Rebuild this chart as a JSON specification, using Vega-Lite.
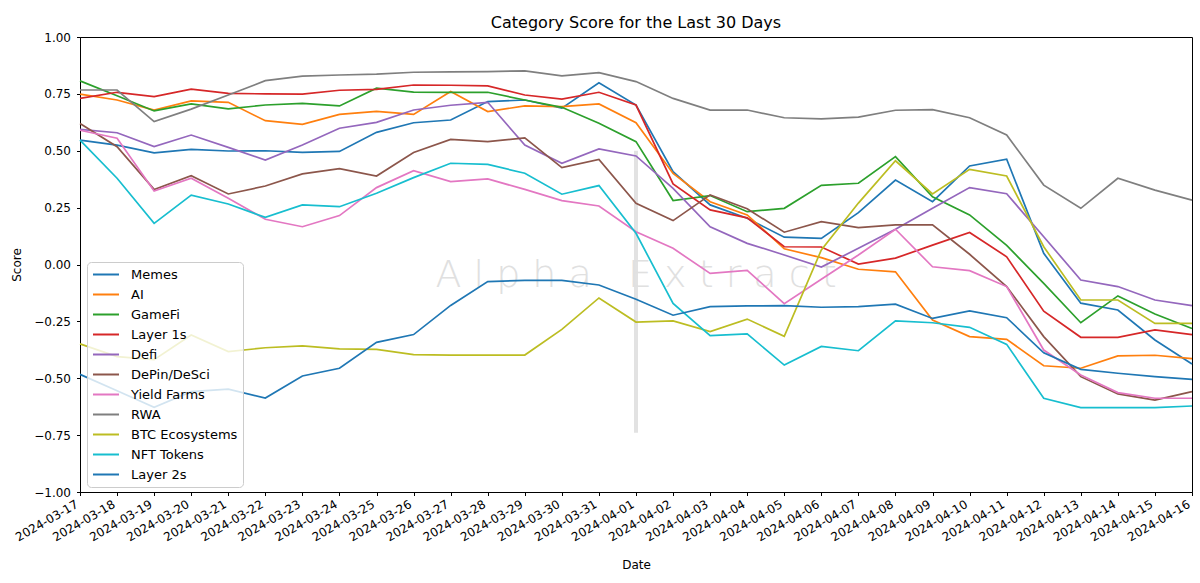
{
"$schema":"https://vega.github.io/schema/vega-lite/v6.json",
"width":1112,"height":455,
"autosize":{"type":"none"},
"padding":{"left":80,"top":37,"right":8,"bottom":91},
"background":"white",
"title":{"text":"Category Score for the Last 30 Days","fontSize":16,"fontWeight":"normal","font":"DejaVu Sans","color":"black","offset":0},
"config":{"font":"DejaVu Sans","view":{"stroke":"black","strokeWidth":1},
"axis":{"domainColor":"black","tickColor":"black","tickSize":3.5,"labelColor":"black","labelFontSize":12,"titleFontSize":12,"titleFontWeight":"normal","titleColor":"black","grid":false,"labelFont":"DejaVu Sans","titleFont":"DejaVu Sans"}},
"data":{"values":[
{"date":"2024-03-17","category":"Memes","score":0.547},{"date":"2024-03-18","category":"Memes","score":0.525},{"date":"2024-03-19","category":"Memes","score":0.491},{"date":"2024-03-20","category":"Memes","score":0.506},{"date":"2024-03-21","category":"Memes","score":0.499},{"date":"2024-03-22","category":"Memes","score":0.5},{"date":"2024-03-23","category":"Memes","score":0.493},{"date":"2024-03-24","category":"Memes","score":0.497},{"date":"2024-03-25","category":"Memes","score":0.581},{"date":"2024-03-26","category":"Memes","score":0.623},{"date":"2024-03-27","category":"Memes","score":0.635},{"date":"2024-03-28","category":"Memes","score":0.716},{"date":"2024-03-29","category":"Memes","score":0.723},{"date":"2024-03-30","category":"Memes","score":0.687},{"date":"2024-03-31","category":"Memes","score":0.799},{"date":"2024-04-01","category":"Memes","score":0.701},{"date":"2024-04-02","category":"Memes","score":0.408},{"date":"2024-04-03","category":"Memes","score":0.262},{"date":"2024-04-04","category":"Memes","score":0.203},{"date":"2024-04-05","category":"Memes","score":0.12},{"date":"2024-04-06","category":"Memes","score":0.115},{"date":"2024-04-07","category":"Memes","score":0.228},{"date":"2024-04-08","category":"Memes","score":0.371},{"date":"2024-04-09","category":"Memes","score":0.276},{"date":"2024-04-10","category":"Memes","score":0.433},{"date":"2024-04-11","category":"Memes","score":0.463},{"date":"2024-04-12","category":"Memes","score":0.049},{"date":"2024-04-13","category":"Memes","score":-0.17},{"date":"2024-04-14","category":"Memes","score":-0.2},{"date":"2024-04-15","category":"Memes","score":-0.332},{"date":"2024-04-16","category":"Memes","score":-0.437},
{"date":"2024-03-17","category":"AI","score":0.749},{"date":"2024-03-18","category":"AI","score":0.723},{"date":"2024-03-19","category":"AI","score":0.679},{"date":"2024-03-20","category":"AI","score":0.719},{"date":"2024-03-21","category":"AI","score":0.713},{"date":"2024-03-22","category":"AI","score":0.632},{"date":"2024-03-23","category":"AI","score":0.616},{"date":"2024-03-24","category":"AI","score":0.66},{"date":"2024-03-25","category":"AI","score":0.673},{"date":"2024-03-26","category":"AI","score":0.66},{"date":"2024-03-27","category":"AI","score":0.76},{"date":"2024-03-28","category":"AI","score":0.672},{"date":"2024-03-29","category":"AI","score":0.697},{"date":"2024-03-30","category":"AI","score":0.694},{"date":"2024-03-31","category":"AI","score":0.706},{"date":"2024-04-01","category":"AI","score":0.623},{"date":"2024-04-02","category":"AI","score":0.4},{"date":"2024-04-03","category":"AI","score":0.276},{"date":"2024-04-04","category":"AI","score":0.218},{"date":"2024-04-05","category":"AI","score":0.069},{"date":"2024-04-06","category":"AI","score":0.03},{"date":"2024-04-07","category":"AI","score":-0.021},{"date":"2024-04-08","category":"AI","score":-0.032},{"date":"2024-04-09","category":"AI","score":-0.244},{"date":"2024-04-10","category":"AI","score":-0.317},{"date":"2024-04-11","category":"AI","score":-0.329},{"date":"2024-04-12","category":"AI","score":-0.445},{"date":"2024-04-13","category":"AI","score":-0.456},{"date":"2024-04-14","category":"AI","score":-0.402},{"date":"2024-04-15","category":"AI","score":-0.399},{"date":"2024-04-16","category":"AI","score":-0.414},
{"date":"2024-03-17","category":"GameFi","score":0.807},{"date":"2024-03-18","category":"GameFi","score":0.742},{"date":"2024-03-19","category":"GameFi","score":0.675},{"date":"2024-03-20","category":"GameFi","score":0.706},{"date":"2024-03-21","category":"GameFi","score":0.684},{"date":"2024-03-22","category":"GameFi","score":0.701},{"date":"2024-03-23","category":"GameFi","score":0.708},{"date":"2024-03-24","category":"GameFi","score":0.697},{"date":"2024-03-25","category":"GameFi","score":0.775},{"date":"2024-03-26","category":"GameFi","score":0.758},{"date":"2024-03-27","category":"GameFi","score":0.757},{"date":"2024-03-28","category":"GameFi","score":0.757},{"date":"2024-03-29","category":"GameFi","score":0.723},{"date":"2024-03-30","category":"GameFi","score":0.691},{"date":"2024-03-31","category":"GameFi","score":0.621},{"date":"2024-04-01","category":"GameFi","score":0.54},{"date":"2024-04-02","category":"GameFi","score":0.281},{"date":"2024-04-03","category":"GameFi","score":0.303},{"date":"2024-04-04","category":"GameFi","score":0.232},{"date":"2024-04-05","category":"GameFi","score":0.247},{"date":"2024-04-06","category":"GameFi","score":0.348},{"date":"2024-04-07","category":"GameFi","score":0.357},{"date":"2024-04-08","category":"GameFi","score":0.474},{"date":"2024-04-09","category":"GameFi","score":0.298},{"date":"2024-04-10","category":"GameFi","score":0.218},{"date":"2024-04-11","category":"GameFi","score":0.084},{"date":"2024-04-12","category":"GameFi","score":-0.083},{"date":"2024-04-13","category":"GameFi","score":-0.256},{"date":"2024-04-14","category":"GameFi","score":-0.138},{"date":"2024-04-15","category":"GameFi","score":-0.218},{"date":"2024-04-16","category":"GameFi","score":-0.281},
{"date":"2024-03-17","category":"Layer 1s","score":0.73},{"date":"2024-03-18","category":"Layer 1s","score":0.757},{"date":"2024-03-19","category":"Layer 1s","score":0.738},{"date":"2024-03-20","category":"Layer 1s","score":0.771},{"date":"2024-03-21","category":"Layer 1s","score":0.752},{"date":"2024-03-22","category":"Layer 1s","score":0.75},{"date":"2024-03-23","category":"Layer 1s","score":0.749},{"date":"2024-03-24","category":"Layer 1s","score":0.766},{"date":"2024-03-25","category":"Layer 1s","score":0.77},{"date":"2024-03-26","category":"Layer 1s","score":0.789},{"date":"2024-03-27","category":"Layer 1s","score":0.788},{"date":"2024-03-28","category":"Layer 1s","score":0.785},{"date":"2024-03-29","category":"Layer 1s","score":0.745},{"date":"2024-03-30","category":"Layer 1s","score":0.727},{"date":"2024-03-31","category":"Layer 1s","score":0.757},{"date":"2024-04-01","category":"Layer 1s","score":0.701},{"date":"2024-04-02","category":"Layer 1s","score":0.354},{"date":"2024-04-03","category":"Layer 1s","score":0.24},{"date":"2024-04-04","category":"Layer 1s","score":0.205},{"date":"2024-04-05","category":"Layer 1s","score":0.078},{"date":"2024-04-06","category":"Layer 1s","score":0.077},{"date":"2024-04-07","category":"Layer 1s","score":0.002},{"date":"2024-04-08","category":"Layer 1s","score":0.028},{"date":"2024-04-09","category":"Layer 1s","score":0.085},{"date":"2024-04-10","category":"Layer 1s","score":0.141},{"date":"2024-04-11","category":"Layer 1s","score":0.034},{"date":"2024-04-12","category":"Layer 1s","score":-0.205},{"date":"2024-04-13","category":"Layer 1s","score":-0.32},{"date":"2024-04-14","category":"Layer 1s","score":-0.32},{"date":"2024-04-15","category":"Layer 1s","score":-0.287},{"date":"2024-04-16","category":"Layer 1s","score":-0.308},
{"date":"2024-03-17","category":"Defi","score":0.594},{"date":"2024-03-18","category":"Defi","score":0.579},{"date":"2024-03-19","category":"Defi","score":0.518},{"date":"2024-03-20","category":"Defi","score":0.569},{"date":"2024-03-21","category":"Defi","score":0.515},{"date":"2024-03-22","category":"Defi","score":0.459},{"date":"2024-03-23","category":"Defi","score":0.525},{"date":"2024-03-24","category":"Defi","score":0.599},{"date":"2024-03-25","category":"Defi","score":0.625},{"date":"2024-03-26","category":"Defi","score":0.679},{"date":"2024-03-27","category":"Defi","score":0.7},{"date":"2024-03-28","category":"Defi","score":0.713},{"date":"2024-03-29","category":"Defi","score":0.525},{"date":"2024-03-30","category":"Defi","score":0.445},{"date":"2024-03-31","category":"Defi","score":0.508},{"date":"2024-04-01","category":"Defi","score":0.477},{"date":"2024-04-02","category":"Defi","score":0.335},{"date":"2024-04-03","category":"Defi","score":0.166},{"date":"2024-04-04","category":"Defi","score":0.093},{"date":"2024-04-05","category":"Defi","score":0.042},{"date":"2024-04-06","category":"Defi","score":-0.011},{"date":"2024-04-07","category":"Defi","score":0.071},{"date":"2024-04-08","category":"Defi","score":0.155},{"date":"2024-04-09","category":"Defi","score":0.247},{"date":"2024-04-10","category":"Defi","score":0.338},{"date":"2024-04-11","category":"Defi","score":0.311},{"date":"2024-04-12","category":"Defi","score":0.122},{"date":"2024-04-13","category":"Defi","score":-0.068},{"date":"2024-04-14","category":"Defi","score":-0.097},{"date":"2024-04-15","category":"Defi","score":-0.156},{"date":"2024-04-16","category":"Defi","score":-0.181},
{"date":"2024-03-17","category":"DePin/DeSci","score":0.62},{"date":"2024-03-18","category":"DePin/DeSci","score":0.518},{"date":"2024-03-19","category":"DePin/DeSci","score":0.33},{"date":"2024-03-20","category":"DePin/DeSci","score":0.39},{"date":"2024-03-21","category":"DePin/DeSci","score":0.31},{"date":"2024-03-22","category":"DePin/DeSci","score":0.345},{"date":"2024-03-23","category":"DePin/DeSci","score":0.398},{"date":"2024-03-24","category":"DePin/DeSci","score":0.421},{"date":"2024-03-25","category":"DePin/DeSci","score":0.389},{"date":"2024-03-26","category":"DePin/DeSci","score":0.492},{"date":"2024-03-27","category":"DePin/DeSci","score":0.55},{"date":"2024-03-28","category":"DePin/DeSci","score":0.54},{"date":"2024-03-29","category":"DePin/DeSci","score":0.557},{"date":"2024-03-30","category":"DePin/DeSci","score":0.426},{"date":"2024-03-31","category":"DePin/DeSci","score":0.462},{"date":"2024-04-01","category":"DePin/DeSci","score":0.269},{"date":"2024-04-02","category":"DePin/DeSci","score":0.193},{"date":"2024-04-03","category":"DePin/DeSci","score":0.306},{"date":"2024-04-04","category":"DePin/DeSci","score":0.245},{"date":"2024-04-05","category":"DePin/DeSci","score":0.142},{"date":"2024-04-06","category":"DePin/DeSci","score":0.188},{"date":"2024-04-07","category":"DePin/DeSci","score":0.162},{"date":"2024-04-08","category":"DePin/DeSci","score":0.174},{"date":"2024-04-09","category":"DePin/DeSci","score":0.174},{"date":"2024-04-10","category":"DePin/DeSci","score":0.045},{"date":"2024-04-11","category":"DePin/DeSci","score":-0.097},{"date":"2024-04-12","category":"DePin/DeSci","score":-0.317},{"date":"2024-04-13","category":"DePin/DeSci","score":-0.493},{"date":"2024-04-14","category":"DePin/DeSci","score":-0.569},{"date":"2024-04-15","category":"DePin/DeSci","score":-0.596},{"date":"2024-04-16","category":"DePin/DeSci","score":-0.559},
{"date":"2024-03-17","category":"Yield Farms","score":0.59},{"date":"2024-03-18","category":"Yield Farms","score":0.555},{"date":"2024-03-19","category":"Yield Farms","score":0.323},{"date":"2024-03-20","category":"Yield Farms","score":0.379},{"date":"2024-03-21","category":"Yield Farms","score":0.291},{"date":"2024-03-22","category":"Yield Farms","score":0.199},{"date":"2024-03-23","category":"Yield Farms","score":0.166},{"date":"2024-03-24","category":"Yield Farms","score":0.215},{"date":"2024-03-25","category":"Yield Farms","score":0.338},{"date":"2024-03-26","category":"Yield Farms","score":0.412},{"date":"2024-03-27","category":"Yield Farms","score":0.364},{"date":"2024-03-28","category":"Yield Farms","score":0.376},{"date":"2024-03-29","category":"Yield Farms","score":0.33},{"date":"2024-03-30","category":"Yield Farms","score":0.281},{"date":"2024-03-31","category":"Yield Farms","score":0.257},{"date":"2024-04-01","category":"Yield Farms","score":0.144},{"date":"2024-04-02","category":"Yield Farms","score":0.071},{"date":"2024-04-03","category":"Yield Farms","score":-0.039},{"date":"2024-04-04","category":"Yield Farms","score":-0.026},{"date":"2024-04-05","category":"Yield Farms","score":-0.172},{"date":"2024-04-06","category":"Yield Farms","score":-0.065},{"date":"2024-04-07","category":"Yield Farms","score":0.042},{"date":"2024-04-08","category":"Yield Farms","score":0.155},{"date":"2024-04-09","category":"Yield Farms","score":-0.01},{"date":"2024-04-10","category":"Yield Farms","score":-0.027},{"date":"2024-04-11","category":"Yield Farms","score":-0.097},{"date":"2024-04-12","category":"Yield Farms","score":-0.376},{"date":"2024-04-13","category":"Yield Farms","score":-0.486},{"date":"2024-04-14","category":"Yield Farms","score":-0.563},{"date":"2024-04-15","category":"Yield Farms","score":-0.588},{"date":"2024-04-16","category":"Yield Farms","score":-0.588},
{"date":"2024-03-17","category":"RWA","score":0.767},{"date":"2024-03-18","category":"RWA","score":0.767},{"date":"2024-03-19","category":"RWA","score":0.628},{"date":"2024-03-20","category":"RWA","score":0.683},{"date":"2024-03-21","category":"RWA","score":0.745},{"date":"2024-03-22","category":"RWA","score":0.808},{"date":"2024-03-23","category":"RWA","score":0.828},{"date":"2024-03-24","category":"RWA","score":0.833},{"date":"2024-03-25","category":"RWA","score":0.837},{"date":"2024-03-26","category":"RWA","score":0.845},{"date":"2024-03-27","category":"RWA","score":0.847},{"date":"2024-03-28","category":"RWA","score":0.848},{"date":"2024-03-29","category":"RWA","score":0.851},{"date":"2024-03-30","category":"RWA","score":0.829},{"date":"2024-03-31","category":"RWA","score":0.843},{"date":"2024-04-01","category":"RWA","score":0.804},{"date":"2024-04-02","category":"RWA","score":0.73},{"date":"2024-04-03","category":"RWA","score":0.679},{"date":"2024-04-04","category":"RWA","score":0.679},{"date":"2024-04-05","category":"RWA","score":0.645},{"date":"2024-04-06","category":"RWA","score":0.64},{"date":"2024-04-07","category":"RWA","score":0.648},{"date":"2024-04-08","category":"RWA","score":0.678},{"date":"2024-04-09","category":"RWA","score":0.681},{"date":"2024-04-10","category":"RWA","score":0.645},{"date":"2024-04-11","category":"RWA","score":0.569},{"date":"2024-04-12","category":"RWA","score":0.349},{"date":"2024-04-13","category":"RWA","score":0.247},{"date":"2024-04-14","category":"RWA","score":0.379},{"date":"2024-04-15","category":"RWA","score":0.327},{"date":"2024-04-16","category":"RWA","score":0.283},
{"date":"2024-03-17","category":"BTC Ecosystems","score":-0.349},{"date":"2024-03-18","category":"BTC Ecosystems","score":-0.405},{"date":"2024-03-19","category":"BTC Ecosystems","score":-0.418},{"date":"2024-03-20","category":"BTC Ecosystems","score":-0.31},{"date":"2024-03-21","category":"BTC Ecosystems","score":-0.383},{"date":"2024-03-22","category":"BTC Ecosystems","score":-0.366},{"date":"2024-03-23","category":"BTC Ecosystems","score":-0.358},{"date":"2024-03-24","category":"BTC Ecosystems","score":-0.371},{"date":"2024-03-25","category":"BTC Ecosystems","score":-0.373},{"date":"2024-03-26","category":"BTC Ecosystems","score":-0.396},{"date":"2024-03-27","category":"BTC Ecosystems","score":-0.398},{"date":"2024-03-28","category":"BTC Ecosystems","score":-0.398},{"date":"2024-03-29","category":"BTC Ecosystems","score":-0.398},{"date":"2024-03-30","category":"BTC Ecosystems","score":-0.285},{"date":"2024-03-31","category":"BTC Ecosystems","score":-0.147},{"date":"2024-04-01","category":"BTC Ecosystems","score":-0.253},{"date":"2024-04-02","category":"BTC Ecosystems","score":-0.248},{"date":"2024-04-03","category":"BTC Ecosystems","score":-0.295},{"date":"2024-04-04","category":"BTC Ecosystems","score":-0.24},{"date":"2024-04-05","category":"BTC Ecosystems","score":-0.316},{"date":"2024-04-06","category":"BTC Ecosystems","score":0.064},{"date":"2024-04-07","category":"BTC Ecosystems","score":0.27},{"date":"2024-04-08","category":"BTC Ecosystems","score":0.456},{"date":"2024-04-09","category":"BTC Ecosystems","score":0.31},{"date":"2024-04-10","category":"BTC Ecosystems","score":0.418},{"date":"2024-04-11","category":"BTC Ecosystems","score":0.389},{"date":"2024-04-12","category":"BTC Ecosystems","score":0.078},{"date":"2024-04-13","category":"BTC Ecosystems","score":-0.156},{"date":"2024-04-14","category":"BTC Ecosystems","score":-0.156},{"date":"2024-04-15","category":"BTC Ecosystems","score":-0.259},{"date":"2024-04-16","category":"BTC Ecosystems","score":-0.259},
{"date":"2024-03-17","category":"NFT Tokens","score":0.547},{"date":"2024-03-18","category":"NFT Tokens","score":0.379},{"date":"2024-03-19","category":"NFT Tokens","score":0.181},{"date":"2024-03-20","category":"NFT Tokens","score":0.305},{"date":"2024-03-21","category":"NFT Tokens","score":0.266},{"date":"2024-03-22","category":"NFT Tokens","score":0.207},{"date":"2024-03-23","category":"NFT Tokens","score":0.262},{"date":"2024-03-24","category":"NFT Tokens","score":0.254},{"date":"2024-03-25","category":"NFT Tokens","score":0.313},{"date":"2024-03-26","category":"NFT Tokens","score":0.382},{"date":"2024-03-27","category":"NFT Tokens","score":0.445},{"date":"2024-03-28","category":"NFT Tokens","score":0.44},{"date":"2024-03-29","category":"NFT Tokens","score":0.401},{"date":"2024-03-30","category":"NFT Tokens","score":0.309},{"date":"2024-03-31","category":"NFT Tokens","score":0.347},{"date":"2024-04-01","category":"NFT Tokens","score":0.137},{"date":"2024-04-02","category":"NFT Tokens","score":-0.171},{"date":"2024-04-03","category":"NFT Tokens","score":-0.313},{"date":"2024-04-04","category":"NFT Tokens","score":-0.305},{"date":"2024-04-05","category":"NFT Tokens","score":-0.442},{"date":"2024-04-06","category":"NFT Tokens","score":-0.36},{"date":"2024-04-07","category":"NFT Tokens","score":-0.379},{"date":"2024-04-08","category":"NFT Tokens","score":-0.248},{"date":"2024-04-09","category":"NFT Tokens","score":-0.256},{"date":"2024-04-10","category":"NFT Tokens","score":-0.276},{"date":"2024-04-11","category":"NFT Tokens","score":-0.351},{"date":"2024-04-12","category":"NFT Tokens","score":-0.588},{"date":"2024-04-13","category":"NFT Tokens","score":-0.629},{"date":"2024-04-14","category":"NFT Tokens","score":-0.629},{"date":"2024-04-15","category":"NFT Tokens","score":-0.629},{"date":"2024-04-16","category":"NFT Tokens","score":-0.622},
{"date":"2024-03-17","category":"Layer 2s","score":-0.483},{"date":"2024-03-18","category":"Layer 2s","score":-0.555},{"date":"2024-03-19","category":"Layer 2s","score":-0.628},{"date":"2024-03-20","category":"Layer 2s","score":-0.559},{"date":"2024-03-21","category":"Layer 2s","score":-0.548},{"date":"2024-03-22","category":"Layer 2s","score":-0.587},{"date":"2024-03-23","category":"Layer 2s","score":-0.49},{"date":"2024-03-24","category":"Layer 2s","score":-0.456},{"date":"2024-03-25","category":"Layer 2s","score":-0.342},{"date":"2024-03-26","category":"Layer 2s","score":-0.308},{"date":"2024-03-27","category":"Layer 2s","score":-0.18},{"date":"2024-03-28","category":"Layer 2s","score":-0.075},{"date":"2024-03-29","category":"Layer 2s","score":-0.07},{"date":"2024-03-30","category":"Layer 2s","score":-0.07},{"date":"2024-03-31","category":"Layer 2s","score":-0.09},{"date":"2024-04-01","category":"Layer 2s","score":-0.153},{"date":"2024-04-02","category":"Layer 2s","score":-0.223},{"date":"2024-04-03","category":"Layer 2s","score":-0.185},{"date":"2024-04-04","category":"Layer 2s","score":-0.182},{"date":"2024-04-05","category":"Layer 2s","score":-0.181},{"date":"2024-04-06","category":"Layer 2s","score":-0.188},{"date":"2024-04-07","category":"Layer 2s","score":-0.185},{"date":"2024-04-08","category":"Layer 2s","score":-0.174},{"date":"2024-04-09","category":"Layer 2s","score":-0.237},{"date":"2024-04-10","category":"Layer 2s","score":-0.204},{"date":"2024-04-11","category":"Layer 2s","score":-0.234},{"date":"2024-04-12","category":"Layer 2s","score":-0.388},{"date":"2024-04-13","category":"Layer 2s","score":-0.461},{"date":"2024-04-14","category":"Layer 2s","score":-0.478},{"date":"2024-04-15","category":"Layer 2s","score":-0.493},{"date":"2024-04-16","category":"Layer 2s","score":-0.505}
]},
"layer":[
{"data":{"values":[{"label":"watermark"}]},
 "mark":{"type":"rule","color":"#e2e2e2","strokeWidth":4},
 "encoding":{"x":{"datum":"2024-04-01","type":"ordinal"},"y":{"datum":0.5,"type":"quantitative"},"y2":{"datum":-0.74}}},
{"data":{"values":[{"label":"A\u00a0l\u00a0p\u00a0h\u00a0a\u00a0\u00a0\u00a0E\u00a0x\u00a0t\u00a0r\u00a0a\u00a0c\u00a0t"}]},
 "mark":{"type":"text","color":"#e0e0e0","fontSize":38,"font":"DejaVu Sans","fontWeight":300,"align":"center","baseline":"middle"},
 "encoding":{"x":{"datum":"2024-04-01","type":"ordinal"},"y":{"datum":-0.05,"type":"quantitative"},"text":{"field":"label"}}},
{"mark":{"type":"line","strokeWidth":1.7},
 "encoding":{
  "x":{"field":"date","type":"ordinal","scale":{"type":"point","padding":0},
       "axis":{"title":"Date","labelAngle":-30,"labelAlign":"right","labelBaseline":"top","labelPadding":3,"labelOffset":-6,"labelOverlap":false,"labelBound":false,"titlePadding":17}},
  "y":{"field":"score","type":"quantitative","scale":{"domain":[-1,1],"nice":false,"zero":false},
       "axis":{"title":"Score","values":[-1,-0.75,-0.5,-0.25,0,0.25,0.5,0.75,1],"format":".2f","labelPadding":6,"titlePadding":10}},
  "color":{"field":"category","type":"nominal",
       "scale":{"domain":["Memes","AI","GameFi","Layer 1s","Defi","DePin/DeSci","Yield Farms","RWA","BTC Ecosystems","NFT Tokens","Layer 2s"],
                "range":["#1f77b4","#ff7f0e","#2ca02c","#d62728","#9467bd","#8c564b","#e377c2","#7f7f7f","#bcbd22","#17becf","#1f77b4"]},
       "legend":{"title":null,"orient":"none","legendX":7,"legendY":225,"symbolType":"M-1,0H3","symbolSize":169,"symbolStrokeWidth":2,"labelFontSize":13,"labelFont":"DejaVu Sans","labelColor":"black","labelOffset":24,"rowPadding":5,"padding":5,"fillColor":"rgba(255,255,255,0.8)","strokeColor":"#cccccc","cornerRadius":4}}
 }}
]
}
